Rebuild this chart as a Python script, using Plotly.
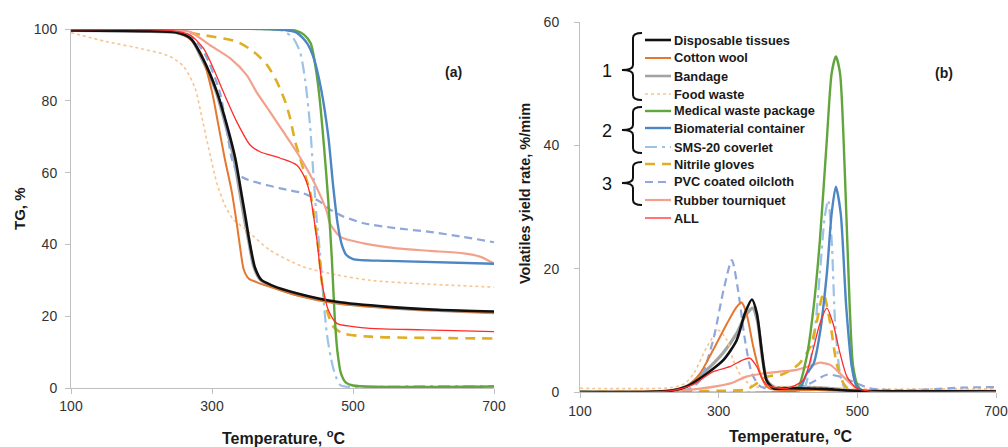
import plotly.graph_objects as go

W, H = 1008, 447

# ---------------- Panel (a): TG, % ----------------
tg_T_tissue = [100, 200, 250, 270, 287, 307, 321, 333, 341, 348, 353, 361, 370, 385, 420, 477, 550, 620, 700]
tg_tissue   = [99.6, 99.4, 99.0, 97.3, 91.8, 82.5, 73.3, 64, 55, 47, 41, 33.5, 30.1, 28.6, 26.4, 24.0, 22.6, 21.8, 21.3]

tg_T_cotton = [100, 200, 250, 270, 285, 300, 309, 318, 328, 335, 340, 345, 352, 363, 382, 420, 477, 550, 700]
tg_cotton   = [99.8, 99.5, 99.0, 97, 93, 82.5, 73.3, 64, 54.7, 46, 39, 33, 30.5, 29.5, 28.2, 25.8, 23.6, 22.3, 21.0]

tg_T_bandage = [100, 200, 250, 270, 285, 305, 319, 331, 339, 346, 352, 359, 368, 385, 420, 477, 550, 620, 700]
tg_bandage   = [99.6, 99.4, 99.0, 97.3, 92, 83, 73.5, 64, 55, 47, 41, 34, 30.3, 28.3, 26.0, 23.7, 22.4, 21.6, 21.0]

tg_T_food = [100, 150, 200, 240, 260, 276, 285, 295, 307, 318, 330, 349, 382, 429, 477, 524, 600, 700]
tg_food   = [99, 96.5, 94.5, 92.4, 89.5, 83.5, 76, 67, 57, 51, 47, 44, 38.4, 33.8, 31.5, 30, 29, 28.1]

tg_T_medical = [100, 420, 430, 440, 448, 453, 459, 465, 470, 474, 478, 483, 490, 500, 700]
tg_medical   = [100, 99.5, 98.5, 96, 88, 80, 67, 52, 36, 20, 10, 4, 1.5, 0.7, 0.4]

tg_T_bio = [100, 380, 400, 420, 435, 445, 455, 465, 472, 478, 484, 490, 500, 550, 700]
tg_bio   = [100, 100, 99.8, 99, 96, 91.5, 83, 70, 56, 46, 40, 37.2, 35.9, 35.4, 34.6]

tg_T_sms = [100, 350, 400, 415, 425, 432, 439, 444, 449, 453, 458, 463, 468, 472, 477, 482, 490, 600, 700]
tg_sms   = [100, 100, 99.5, 97.5, 93.5, 86, 73.3, 59, 46, 38, 25, 15, 9, 5.5, 2.5, 0.8, 0.4, 0.5, 0.5]

tg_T_nitrile = [100, 240, 288, 335, 359, 378, 392, 404, 411, 418, 425, 432, 439, 444, 451, 456, 463, 472, 486, 524, 700]
tg_nitrile   = [100, 99.7, 98.3, 96.5, 93.7, 90, 85.3, 79.7, 75, 68.6, 64, 59.3, 54.7, 49, 38.4, 29.2, 21.7, 17.1, 15.2, 14.3, 13.8]

tg_T_pvc = [100, 250, 270, 290, 311, 328, 335, 345, 359, 397, 430, 453, 470, 486, 515, 562, 609, 656, 700]
tg_pvc   = [100, 99.5, 98, 93, 82.5, 64, 60.3, 58.5, 57.5, 55.6, 54.2, 51.9, 49.4, 47.8, 45.9, 44.5, 43.5, 42.1, 40.6]

tg_T_rubber = [100, 250, 269, 297, 326, 349, 363, 382, 401, 420, 434, 449, 463, 467, 482, 515, 562, 609, 657, 680, 700]
tg_rubber   = [100, 99.5, 99.2, 95.5, 91.8, 87.2, 82.5, 77, 71.4, 65.8, 61.2, 55.6, 49.1, 46, 42.1, 40.3, 38.9, 38.2, 37.5, 36.6, 34.7]

tg_T_all = [100, 240, 269, 288, 302, 316, 335, 354, 368, 397, 420, 432, 439, 444, 449, 456, 465, 477, 500, 524, 600, 700]
tg_all   = [99.8, 99.6, 98.3, 94.6, 89, 82.5, 74.2, 67.7, 65.8, 64, 62.1, 58.4, 54, 48, 41, 29.2, 21.7, 18, 17.1, 16.6, 16.2, 15.7]

# ---------------- Panel (b): volatiles yield rate, %/min ----------------
dtg_T_tissue = [100, 230, 254, 283, 307, 326, 338, 348, 355, 362, 369, 379, 400, 450, 500, 700]
dtg_tissue   = [0, 0.2, 0.9, 3.0, 5.2, 8.4, 12.8, 15.0, 12.8, 6.8, 1.9, 0.6, 0.6, 0.5, 0.2, 0.1]

dtg_T_cotton = [100, 230, 255, 273, 292, 312, 326, 333, 340, 350, 360, 369, 380, 450, 500, 700]
dtg_cotton   = [0, 0.2, 1.0, 3.0, 6.8, 11.1, 13.8, 14.5, 12.8, 7.3, 3.0, 0.9, 0.4, 0.3, 0.1, 0.1]

dtg_T_bandage = [100, 230, 255, 280, 306, 326, 338, 349, 356, 363, 370, 380, 420, 460, 500, 700]
dtg_bandage   = [0, 0.2, 1.0, 3.3, 6.3, 9.5, 12.3, 13.6, 11.5, 5.5, 1.8, 0.8, 0.8, 0.6, 0.2, 0.1]

dtg_T_food = [100, 230, 250, 264, 283, 300, 312, 321, 333, 350, 400, 450, 500, 600, 700]
dtg_food   = [0.6, 0.7, 1.3, 3.0, 7.3, 10.0, 8.4, 5.2, 2.5, 0.9, 0.9, 0.7, 0.5, 0.5, 0.5]

dtg_T_medical = [100, 400, 413, 427, 437, 446, 456, 463, 469, 475, 482, 489, 494, 501, 508, 700]
dtg_medical   = [0, 0, 0.3, 5.7, 13.8, 24.6, 40.9, 51.7, 54.4, 51.7, 35.5, 13.8, 4.1, 0.9, 0.2, 0.1]

dtg_T_bio = [100, 400, 417, 427, 437, 446, 456, 463, 469, 476, 484, 492, 499, 510, 700]
dtg_bio   = [0, 0, 0.6, 3.0, 4.6, 9.5, 19.2, 29, 33.3, 29, 13.8, 4.1, 0.9, 0.1, 0.05]

dtg_T_sms = [100, 405, 422, 437, 446, 453, 458, 463, 468, 475, 482, 495, 700]
dtg_sms   = [0, 0, 0.3, 8.4, 19.2, 28.4, 31.1, 24.6, 11.1, 3, 0.6, 0, 0]

dtg_T_nitrile = [100, 300, 340, 355, 364, 374, 390, 405, 417, 432, 441, 451, 461, 470, 480, 490, 700]
dtg_nitrile   = [0, 0.2, 0.4, 1.4, 2.2, 2.6, 2.8, 3.6, 4.7, 7.3, 11.1, 16, 11.1, 4.7, 1.4, 0.3, 0.1]

dtg_T_pvc = [100, 240, 260, 273, 292, 307, 319, 328, 338, 348, 360, 380, 410, 432, 456, 475, 499, 518, 550, 600, 650, 700]
dtg_pvc   = [0, 0.1, 0.6, 1.9, 8.4, 16.5, 21.4, 16.5, 8.4, 3.0, 0.9, 0.5, 0.6, 1.4, 2.8, 2.5, 1.4, 0.6, 0.3, 0.4, 0.7, 0.8]

dtg_T_rubber = [100, 240, 270, 300, 320, 340, 364, 388, 413, 436, 446, 461, 475, 490, 500, 520, 700]
dtg_rubber   = [0, 0.2, 0.5, 1.0, 1.5, 2.5, 3.0, 3.3, 3.6, 4.4, 4.75, 4.4, 3.0, 1.4, 0.5, 0.1, 0.1]

dtg_T_all = [100, 230, 263, 292, 316, 335, 345, 355, 364, 374, 398, 422, 436, 446, 456, 465, 475, 485, 499, 520, 700]
dtg_all   = [0, 0.2, 1.2, 3.3, 4.1, 5.2, 5.5, 4.1, 1.9, 0.9, 0.6, 1.9, 6.8, 11.1, 13.6, 11.1, 6.3, 2.5, 0.6, 0.1, 0.1]

x_ticks = [100, 300, 500, 700]
tg_ticks = [0, 20, 40, 60, 80, 100]
dtg_ticks = [0, 20, 40, 60]

# name, colour, width, dash, TG data, DTG data
series = [
    ("Disposable tissues", "#111111", 2.6, "solid", tg_T_tissue, tg_tissue, dtg_T_tissue, dtg_tissue),
    ("Cotton wool", "#E5772E", 2.0, "solid", tg_T_cotton, tg_cotton, dtg_T_cotton, dtg_cotton),
    ("Bandage", "#A3A3A3", 3.2, "solid", tg_T_bandage, tg_bandage, dtg_T_bandage, dtg_bandage),
    ("Food waste", "#F8C38F", 1.6, "dot", tg_T_food, tg_food, dtg_T_food, dtg_food),
    ("Medical waste package", "#62A53C", 2.4, "solid", tg_T_medical, tg_medical, dtg_T_medical, dtg_medical),
    ("Biomaterial container", "#4C86C3", 2.4, "solid", tg_T_bio, tg_bio, dtg_T_bio, dtg_bio),
    ("SMS-20 coverlet", "#9CC2E6", 2.2, "12px,5px,3px,5px", tg_T_sms, tg_sms, dtg_T_sms, dtg_sms),
    ("Nitrile gloves", "#DFAE22", 2.6, "10px,7px", tg_T_nitrile, tg_nitrile, dtg_T_nitrile, dtg_nitrile),
    ("PVC coated oilcloth", "#8FA7DA", 2.2, "8px,5px", tg_T_pvc, tg_pvc, dtg_T_pvc, dtg_pvc),
    ("Rubber tourniquet", "#F2A28C", 2.2, "solid", tg_T_rubber, tg_rubber, dtg_T_rubber, dtg_rubber),
    ("ALL", "#FF2B2B", 1.3, "solid", tg_T_all, tg_all, dtg_T_all, dtg_all),
]
draw_order = ["Bandage", "Food waste", "SMS-20 coverlet", "PVC coated oilcloth", "Nitrile gloves",
              "Rubber tourniquet", "Medical waste package", "Biomaterial container",
              "Cotton wool", "Disposable tissues", "ALL"]

fig = go.Figure()
lookup = {s[0]: s for s in series}
for nm in draw_order:
    name, col, wd, dash, tx, ty, dx, dy = lookup[nm]
    fig.add_trace(go.Scatter(x=tx, y=ty, mode="lines", name=name, showlegend=False,
                             line=dict(color=col, width=wd, dash=dash, shape="spline", smoothing=0.7),
                             xaxis="x", yaxis="y"))
    fig.add_trace(go.Scatter(x=dx, y=dy, mode="lines", name=name, showlegend=False,
                             line=dict(color=col, width=wd, dash=dash, shape="spline", smoothing=0.7),
                             xaxis="x2", yaxis="y2"))

def px(x):
    return x / W

def py(y):
    return 1 - y / H

axis_common = dict(showgrid=False, zeroline=False, showline=True, linecolor="#BFBFBF", linewidth=1,
                   ticks="outside", ticklen=5, tickcolor="#BFBFBF", automargin=False,
                   tickfont=dict(family="Liberation Sans, Arial, sans-serif", size=14, color="#333333"))

fig.update_layout(
    width=W, height=H, autosize=False,
    margin=dict(l=0, r=0, t=0, b=0, pad=0),
    paper_bgcolor="white", plot_bgcolor="white",
    showlegend=False,
    xaxis=dict(domain=[px(71), px(494)], range=[100, 700], tickvals=x_ticks, anchor="y",
               ticklabelstandoff=0, **axis_common),
    yaxis=dict(domain=[py(388), py(29)], range=[0, 100], tickvals=tg_ticks, anchor="x",
               ticklabelstandoff=5, **axis_common),
    xaxis2=dict(domain=[px(580), px(996)], range=[100, 700], tickvals=x_ticks, anchor="y2",
                ticklabelstandoff=1, **axis_common),
    yaxis2=dict(domain=[py(392), py(22)], range=[0, 60], tickvals=dtg_ticks, anchor="x2",
                ticklabelstandoff=12, **axis_common),
)

ann = []
title_font = dict(family="Liberation Sans, Arial, sans-serif", size=16, color="#1a1a1a")
ann.append(dict(text="<b>Temperature, <sup>o</sup>C</b>", x=px(283), y=py(437), xref="paper", yref="paper",
                showarrow=False, xanchor="center", yanchor="middle", font=title_font))
ann.append(dict(text="<b>Temperature, <sup>o</sup>C</b>", x=px(790), y=py(435), xref="paper", yref="paper",
                showarrow=False, xanchor="center", yanchor="middle", font=title_font))
ann.append(dict(text="<b>TG, %</b>", x=px(20), y=py(209), xref="paper", yref="paper", textangle=-90,
                showarrow=False, xanchor="center", yanchor="middle",
                font=dict(family="Liberation Sans, Arial, sans-serif", size=15, color="#1a1a1a")))
ann.append(dict(text="<b>Volatiles yield rate, %/mim</b>", x=px(525), y=py(194), xref="paper", yref="paper",
                textangle=-90, showarrow=False, xanchor="center", yanchor="middle",
                font=dict(family="Liberation Sans, Arial, sans-serif", size=14.5, color="#1a1a1a")))
ann.append(dict(text="<b>(a)</b>", x=px(453), y=py(62), xref="paper", yref="paper", showarrow=False,
                font=dict(family="Liberation Sans, Arial, sans-serif", size=14, color="#1a1a1a")))
ann.append(dict(text="<b>(b)</b>", x=px(955), y=py(63), xref="paper", yref="paper", showarrow=False,
                font=dict(family="Liberation Sans, Arial, sans-serif", size=14, color="#1a1a1a")))

# manual legend
legend_rows = [40, 58, 76, 94, 111, 128, 147, 164, 182, 200, 218]
shapes = []
for (name, col, wd, dash, *_), yrow in zip(series, legend_rows):
    shapes.append(dict(type="line", xref="paper", yref="paper", x0=px(645), x1=px(671), y0=py(yrow), y1=py(yrow),
                       line=dict(color=col, width=min(wd, 2.6), dash=dash)))
    ann.append(dict(text="<b>%s</b>" % name, x=px(672), y=py(yrow), xref="paper", yref="paper",
                    showarrow=False, xanchor="left", yanchor="middle",
                    font=dict(family="Liberation Sans, Arial, sans-serif", size=12.8, color="#1a1a1a")))

# braces
def brace(top, bottom, mid):
    xe, xv, xt = 642, 633, 622
    pts = [
        "M %f,%f" % (px(xe), py(top)),
        "Q %f,%f %f,%f" % (px(xv), py(top), px(xv), py(top + 5)),
        "L %f,%f" % (px(xv), py(mid - 5)),
        "Q %f,%f %f,%f" % (px(xv), py(mid), px(xt), py(mid)),
        "Q %f,%f %f,%f" % (px(xv), py(mid), px(xv), py(mid + 5)),
        "L %f,%f" % (px(xv), py(bottom - 5)),
        "Q %f,%f %f,%f" % (px(xv), py(bottom), px(xe), py(bottom)),
    ]
    return " ".join(pts)

for (top, bottom, mid, label) in [(33, 100, 70, "1"), (107, 153, 130, "2"), (162, 205, 183, "3")]:
    shapes.append(dict(type="path", xref="paper", yref="paper", path=brace(top, bottom, mid),
                       line=dict(color="#111111", width=2)))
    ann.append(dict(text=label, x=px(607), y=py(mid + 1), xref="paper", yref="paper", showarrow=False,
                    xanchor="center", yanchor="middle",
                    font=dict(family="Liberation Sans, Arial, sans-serif", size=18, color="#111111")))

fig.update_layout(annotations=ann, shapes=shapes)
fig.write_html("out.html", config={"displayModeBar": False},
               post_script="document.body.style.margin='0';document.body.style.overflow='hidden';")
